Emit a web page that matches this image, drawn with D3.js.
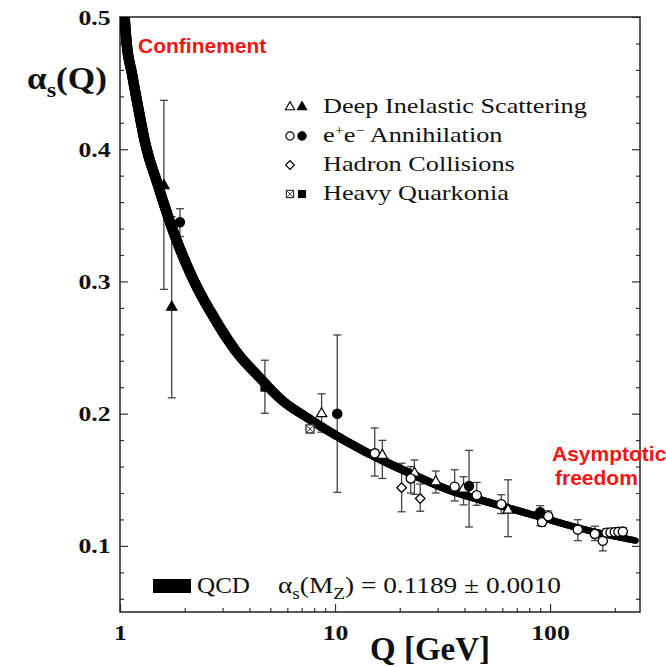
<!DOCTYPE html>
<html>
<head>
<meta charset="utf-8">
<script src="https://cdn.jsdelivr.net/npm/d3@7"></script>
<style>
  body { margin: 0; background: #fff; }
  svg { display: block; }
</style>
</head>
<body>
<div id="chart"></div>
<script>

// ---- values ----

// QCD band, centre line
var curveQ     = [1.02, 1.05, 1.07, 1.14, 1.22, 1.3, 1.5, 1.75, 2.1, 2.8, 3.4, 4.6, 5.5, 7.6, 10.5, 16, 23, 33, 47, 60, 85, 140, 250];
var curveAlpha = [0.522, 0.500, 0.483, 0.456, 0.430, 0.407, 0.373, 0.340, 0.308, 0.270, 0.249, 0.225, 0.212, 0.196, 0.182, 0.166, 0.154, 0.143, 0.135, 0.130, 0.123, 0.113, 0.104];

// Deep inelastic scattering (open / filled triangles)
var disOpenQ    = [8.66, 16.6, 23.4, 29.4, 39.6, 63.8];
var disOpenA    = [0.200, 0.1685, 0.1550, 0.1485, 0.1430, 0.1270];
var disOpenLo   = [0.186, 0.1510, 0.1390, 0.1400, 0.1310, 0.1070];
var disOpenHi   = [0.215, 0.1798, 0.1650, 0.1566, 0.1523, 0.1500];
var disFilledQ  = [1.60, 1.74];
var disFilledA  = [0.3725, 0.2805];
var disFilledLo = [0.294, 0.212];
var disFilledHi = [0.437, 0.349];

// e+e- annihilation (open / filled circles)
var eeOpenQ    = [15.3, 22.5, 36.0, 45.6, 59.3, 91.8, 98.1, 134.6, 161.6, 175.9, 183, 191, 200, 208, 218];
var eeOpenA    = [0.1700, 0.1510, 0.1448, 0.1383, 0.1315, 0.1180, 0.1224, 0.1123, 0.1090, 0.1038, 0.1100, 0.1102, 0.1104, 0.1106, 0.1108];
var eeOpenLo   = [0.1528, 0.1400, 0.1340, 0.1307, 0.1244, 0.1150, 0.1195, 0.1040, 0.1040, 0.0962, 0.1070, 0.1072, 0.1074, 0.1076, 0.1078];
var eeOpenHi   = [0.1892, 0.1600, 0.1576, 0.1480, 0.1387, 0.1215, 0.1265, 0.1198, 0.1149, 0.1093, 0.1130, 0.1132, 0.1134, 0.1136, 0.1138];
var eeFilledQ  = [1.90, 10.24, 42.0, 90.0];
var eeFilledA  = [0.3448, 0.2000, 0.1453, 0.1254];
var eeFilledLo = [0.334, 0.1405, 0.1143, 0.1153];
var eeFilledHi = [0.355, 0.2595, 0.1722, 0.1304];

// hadron collisions (open diamonds)
var hadronQ  = [20.4, 24.9];
var hadronA  = [0.1440, 0.1358];
var hadronLo = [0.1258, 0.1262];
var hadronHi = [0.1625, 0.1468];

// heavy quarkonia (crossed square / filled square)
var quarkOpenQ    = [7.65];
var quarkOpenA    = [0.1885];
var quarkOpenLo   = [0.1855];
var quarkOpenHi   = [0.1905];
var quarkFilledQ  = [4.72];
var quarkFilledA  = [0.2200];
var quarkFilledLo = [0.2003];
var quarkFilledHi = [0.2404];

// ticks
var yTicks      = [0.1, 0.2, 0.3, 0.4, 0.5];
var yMinorTicks = [0.06, 0.08, 0.12, 0.14, 0.16, 0.18, 0.22, 0.24, 0.26, 0.28, 0.32, 0.34, 0.36, 0.38, 0.42, 0.44, 0.46, 0.48];
var xTicks      = [1, 10, 100];
var xMinorTicks = [2, 3, 4, 5, 6, 7, 8, 9, 20, 30, 40, 50, 60, 70, 80, 90, 200];

var legendLabels = ["Deep Inelastic Scattering", "Annihilation", "Hadron Collisions", "Heavy Quarkonia"];


// ---- layout ----
var W = 666, H = 667;
var plot = { left: 120, right: 640, top: 17, bottom: 612 };
var serif = "'Liberation Serif', 'Times New Roman', serif";
var sans = "'Liberation Sans', Arial, sans-serif";
var red = "#f31414";

var svg = d3.select("#chart").append("svg")
    .attr("width", W)
    .attr("height", H);

var x = d3.scaleLog().domain([1, 262]).range([plot.left, plot.right]);
var y = d3.scaleLinear().domain([0.05, 0.5]).range([plot.bottom, plot.top]);

svg.append("clipPath").attr("id", "plot-clip")
    .append("rect")
    .attr("x", plot.left).attr("y", plot.top)
    .attr("width", plot.right - plot.left)
    .attr("height", plot.bottom - plot.top);


// ---- axes (ticks point inwards) ----
function styleAxis(g){
    g.select(".domain").remove();
    g.selectAll("line").attr("stroke", "#333").attr("stroke-width", 1.2);
}

svg.append("g")
    .attr("transform", "translate(" + plot.left + ",0)")
    .call(d3.axisLeft(y).tickValues(yMinorTicks).tickSize(-4).tickFormat(""))
    .call(styleAxis);

var yAxis = svg.append("g")
    .attr("transform", "translate(" + plot.left + ",0)")
    .call(d3.axisLeft(y).tickValues(yTicks).tickSize(-8).tickPadding(8).tickFormat(d3.format(".1f")))
    .call(styleAxis);

svg.append("g")
    .attr("transform", "translate(" + plot.right + ",0)")
    .call(d3.axisRight(y).tickValues(yMinorTicks).tickSize(-4).tickFormat(""))
    .call(styleAxis);

svg.append("g")
    .attr("transform", "translate(" + plot.right + ",0)")
    .call(d3.axisRight(y).tickValues(yTicks).tickSize(-8).tickFormat(""))
    .call(styleAxis);

svg.append("g")
    .attr("transform", "translate(0," + plot.bottom + ")")
    .call(d3.axisBottom(x).tickValues(xMinorTicks).tickSize(-4).tickFormat(""))
    .call(styleAxis);

var xAxis = svg.append("g")
    .attr("transform", "translate(0," + plot.bottom + ")")
    .call(d3.axisBottom(x).tickValues(xTicks).tickSize(-8).tickPadding(12).tickFormat(function(d){ return d; }))
    .call(styleAxis);

// the tick labels of the original are bold and a little wide
[yAxis, xAxis].forEach(function(ax){
    ax.selectAll("text")
        .attr("font-family", serif)
        .attr("font-weight", "bold")
        .attr("font-size", 22)
        .attr("fill", "#111")
        .attr("transform", "scale(1.17,1)");
});

// frame
svg.append("rect")
    .attr("x", plot.left).attr("y", plot.top)
    .attr("width", plot.right - plot.left)
    .attr("height", plot.bottom - plot.top)
    .attr("fill", "none")
    .attr("stroke", "#222")
    .attr("stroke-width", 1.5);


// ---- error bars (drawn under the band) ----
var series = [
    { q: disOpenQ,     a: disOpenA,     lo: disOpenLo,     hi: disOpenHi,     type: "triOpen" },
    { q: disFilledQ,   a: disFilledA,   lo: disFilledLo,   hi: disFilledHi,   type: "triFilled" },
    { q: eeOpenQ,      a: eeOpenA,      lo: eeOpenLo,      hi: eeOpenHi,      type: "circOpen" },
    { q: eeFilledQ,    a: eeFilledA,    lo: eeFilledLo,    hi: eeFilledHi,    type: "circFilled" },
    { q: hadronQ,      a: hadronA,      lo: hadronLo,      hi: hadronHi,      type: "diamond" },
    { q: quarkOpenQ,   a: quarkOpenA,   lo: quarkOpenLo,   hi: quarkOpenHi,   type: "sqX" },
    { q: quarkFilledQ, a: quarkFilledA, lo: quarkFilledLo, hi: quarkFilledHi, type: "sqFilled" }
];

var bars = svg.append("g").attr("stroke", "#444").attr("stroke-width", 1.3);
series.forEach(function(s){
    s.q.forEach(function(q, i){
        var cx = x(q), y0 = y(s.lo[i]), y1 = y(s.hi[i]);
        bars.append("line").attr("x1", cx).attr("x2", cx).attr("y1", y0).attr("y2", y1);
        bars.append("line").attr("x1", cx - 4).attr("x2", cx + 4).attr("y1", y0).attr("y2", y0);
        bars.append("line").attr("x1", cx - 4).attr("x2", cx + 4).attr("y1", y1).attr("y2", y1);
    });
});


// ---- QCD band: thick black stroke, wider at low Q ----
var line = d3.line()
    .x(function(d){ return x(d[0]); })
    .y(function(d){ return y(d[1]); })
    .curve(d3.curveMonotoneX);

var curvePts = curveQ.map(function(q, i){ return [q, curveAlpha[i]]; });
var guide = svg.append("path").attr("d", line(curvePts)).attr("fill", "none");
var len = guide.node().getTotalLength();

var bandWidth = d3.scaleLog().domain([1, 3, 12, 250]).range([10.5, 10.5, 8.5, 6.5]).clamp(true);

var band = svg.append("g").attr("clip-path", "url(#plot-clip)")
    .attr("stroke", "#000").attr("stroke-linecap", "round");
var steps = 400;
var prev = guide.node().getPointAtLength(0);
for (var i = 1; i <= steps; i++){
    var p = guide.node().getPointAtLength(len * i / steps);
    band.append("line")
        .attr("x1", prev.x).attr("y1", prev.y)
        .attr("x2", p.x).attr("y2", p.y)
        .attr("stroke-width", bandWidth(x.invert((prev.x + p.x) / 2)));
    prev = p;
}
guide.remove();


// ---- markers ----
function drawMarker(g, type, cx, cy, scale){
    scale = scale || 1;
    var m = g.append("g").attr("transform", "translate(" + cx + "," + cy + ") scale(" + scale + ")");
    if (type === "triOpen" || type === "triFilled"){
        m.append("path")
            .attr("d", d3.symbol().type(d3.symbolTriangle).size(46)())
            .attr("fill", type === "triOpen" ? "#fff" : "#000")
            .attr("stroke", "#000").attr("stroke-width", 1.2);
    }
    else if (type === "circOpen" || type === "circFilled"){
        m.append("circle").attr("r", 4.6)
            .attr("fill", type === "circOpen" ? "#fff" : "#000")
            .attr("stroke", "#000").attr("stroke-width", 1.3);
    }
    else if (type === "diamond"){
        m.append("rect").attr("x", -3.4).attr("y", -3.4).attr("width", 6.8).attr("height", 6.8)
            .attr("transform", "rotate(45)")
            .attr("fill", "#fff").attr("stroke", "#000").attr("stroke-width", 1.3);
    }
    else if (type === "sqX"){
        m.append("rect").attr("x", -4).attr("y", -4).attr("width", 8).attr("height", 8)
            .attr("fill", "#fff").attr("stroke", "#333").attr("stroke-width", 1.3);
        m.append("path").attr("d", "M-3,-3L3,3M3,-3L-3,3")
            .attr("stroke", "#333").attr("stroke-width", 1);
    }
    else {
        m.append("rect").attr("x", -4.5).attr("y", -4.5).attr("width", 9).attr("height", 9)
            .attr("fill", "#000");
    }
}

var marks = svg.append("g");
series.forEach(function(s){
    s.q.forEach(function(q, i){
        drawMarker(marks, s.type, x(q), y(s.a[i]));
    });
});


// ---- legend (top right) ----
var legendRows = [
    { types: ["triOpen", "triFilled"], y: 113 },
    { types: ["circOpen", "circFilled"], y: 142 },
    { types: ["diamond"], y: 171 },
    { types: ["sqX", "sqFilled"], y: 200 }
];
var legend = svg.append("g");
legendRows.forEach(function(r, i){
    r.types.forEach(function(t, k){
        drawMarker(legend, t, 290 + k * 12, r.y - 6, 0.9);
    });
    var txt = legend.append("text")
        .attr("transform", "translate(323," + r.y + ") scale(1.25,1)")
        .attr("font-family", serif)
        .attr("font-size", 21)
        .attr("fill", "#111");
    if (i === 1){
        txt.append("tspan").text("e");
        txt.append("tspan").attr("dy", -7).attr("font-size", 13).text("+");
        txt.append("tspan").attr("dy", 7).text("e");
        txt.append("tspan").attr("dy", -7).attr("font-size", 13).text("\u2212");
        txt.append("tspan").attr("dy", 7).text(" " + legendLabels[i]);
    }
    else {
        txt.text(legendLabels[i]);
    }
});

// bottom legend: QCD band + alpha_s(M_Z)
svg.append("rect")
    .attr("x", 153).attr("y", 579)
    .attr("width", 38).attr("height", 14)
    .attr("fill", "#000");

svg.append("text")
    .attr("x", 197).attr("y", 593)
    .attr("font-family", serif).attr("font-size", 24).attr("fill", "#111")
    .attr("textLength", 53).attr("lengthAdjust", "spacingAndGlyphs")
    .text("QCD");

var amz = svg.append("text")
    .attr("x", 278).attr("y", 593)
    .attr("font-family", serif).attr("font-size", 24).attr("fill", "#111")
    .attr("textLength", 283).attr("lengthAdjust", "spacingAndGlyphs");
amz.append("tspan").text("\u03b1");
amz.append("tspan").attr("dy", 6).attr("font-size", 17).text("s");
amz.append("tspan").attr("dy", -6).text("(M");
amz.append("tspan").attr("dy", 6).attr("font-size", 17).text("Z");
amz.append("tspan").attr("dy", -6).text(") = 0.1189 \u00b1 0.0010");


// ---- axis titles ----
var yLabel = svg.append("text")
    .attr("x", 27).attr("y", 89)
    .attr("font-family", serif).attr("font-weight", "bold")
    .attr("font-size", 32).attr("fill", "#111")
    .attr("textLength", 80).attr("lengthAdjust", "spacingAndGlyphs");
yLabel.append("tspan").text("\u03b1");
yLabel.append("tspan").attr("dy", 8).attr("font-size", 22).text("s");
yLabel.append("tspan").attr("dy", -8).text("(Q)");

svg.append("text")
    .attr("x", 370).attr("y", 660)
    .attr("font-family", serif).attr("font-weight", "bold")
    .attr("font-size", 33).attr("fill", "#111")
    .text("Q [GeV]");


// ---- red annotations ----
svg.append("text")
    .attr("x", 138).attr("y", 53)
    .attr("font-family", sans).attr("font-weight", "bold")
    .attr("font-size", 21).attr("fill", red)
    .text("Confinement");

svg.append("text")
    .attr("x", 552).attr("y", 461)
    .attr("font-family", sans).attr("font-weight", "bold")
    .attr("font-size", 21).attr("fill", red)
    .text("Asymptotic");

svg.append("text")
    .attr("x", 555).attr("y", 485)
    .attr("font-family", sans).attr("font-weight", "bold")
    .attr("font-size", 21).attr("fill", red)
    .text("freedom");

</script>
</body>
</html>
